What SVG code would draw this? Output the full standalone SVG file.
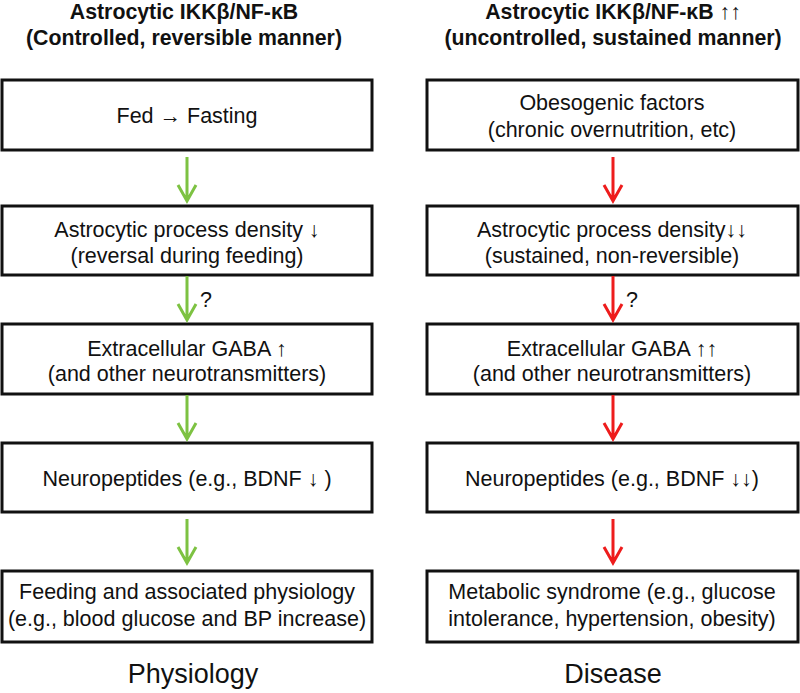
<svg xmlns="http://www.w3.org/2000/svg" width="800" height="693" viewBox="0 0 800 693">
<style>
.box{fill:#fff;stroke:#111;stroke-width:3}
.t{font-family:"Liberation Sans",Arial,sans-serif;font-size:21.5px;fill:#111;text-anchor:middle}
.h{font-family:"Liberation Sans",Arial,sans-serif;font-size:21.3px;font-weight:bold;fill:#111;text-anchor:middle}
.f{font-family:"Liberation Sans",Arial,sans-serif;font-size:27px;fill:#111;text-anchor:middle}
.g{stroke:#7dc242;stroke-width:3;fill:none}
.r{stroke:#ee1c1c;stroke-width:3;fill:none}
</style>
<rect width="800" height="693" fill="#fff"/>
<g id="titles">
<text class="h" x="184" y="19">Astrocytic IKKβ/NF-κB</text>
<text class="h" x="184" y="45">(Controlled, reversible manner)</text>
<text class="h" x="613" y="19">Astrocytic IKKβ/NF-κB ↑↑</text>
<text class="h" x="613" y="45">(uncontrolled, sustained manner)</text>
</g>
<g id="L1"><rect class="box" x="2" y="80" width="370" height="70"/><text class="t" x="187" y="123">Fed → Fasting</text></g>
<g id="L2"><rect class="box" x="2" y="206" width="370" height="69"/><text class="t" x="187" y="237">Astrocytic process density ↓</text><text class="t" x="187" y="263">(reversal during feeding)</text></g>
<g id="L3"><rect class="box" x="2" y="324" width="370" height="70"/><text class="t" x="187" y="356">Extracellular GABA ↑</text><text class="t" x="187" y="381">(and other neurotransmitters)</text></g>
<g id="L4"><rect class="box" x="2" y="443" width="370" height="69"/><text class="t" x="187" y="486">Neuropeptides (e.g., BDNF ↓ )</text></g>
<g id="L5"><rect class="box" x="2" y="571" width="370" height="71"/><text class="t" x="187" y="599">Feeding and associated physiology</text><text class="t" x="187" y="626">(e.g., blood glucose and BP increase)</text></g>
<g id="R1"><rect class="box" x="427" y="80" width="371" height="70"/><text class="t" x="612" y="110">Obesogenic factors</text><text class="t" x="612" y="137">(chronic overnutrition, etc)</text></g>
<g id="R2"><rect class="box" x="427" y="206" width="371" height="69"/><text class="t" x="612" y="237">Astrocytic process density↓↓</text><text class="t" x="612" y="263">(sustained, non-reversible)</text></g>
<g id="R3"><rect class="box" x="427" y="324" width="371" height="70"/><text class="t" x="612" y="356">Extracellular GABA ↑↑</text><text class="t" x="612" y="381">(and other neurotransmitters)</text></g>
<g id="R4"><rect class="box" x="427" y="443" width="371" height="69"/><text class="t" x="612" y="486">Neuropeptides (e.g., BDNF ↓↓)</text></g>
<g id="R5"><rect class="box" x="427" y="571" width="371" height="71"/><text class="t" x="612" y="599">Metabolic syndrome (e.g., glucose</text><text class="t" x="612" y="626">intolerance, hypertension, obesity)</text></g>
<g id="connectors">
<path class="g" d="M187 157V201M178 185L187 201L196 185"/>
<path class="g" d="M187 276V320M178 304L187 320L196 304"/>
<path class="g" d="M187 395V439M178 423L187 439L196 423"/>
<path class="g" d="M187 519V563M178 547L187 563L196 547"/>
<path class="r" d="M613 157V201M604 185L613 201L622 185"/>
<path class="r" d="M613 276V320M604 304L613 320L622 304"/>
<path class="r" d="M613 395V439M604 423L613 439L622 423"/>
<path class="r" d="M613 519V563M604 547L613 563L622 547"/>
<text class="t" x="206" y="307">?</text>
<text class="t" x="632" y="307">?</text>
</g>
<g id="footer">
<text class="f" x="193" y="683">Physiology</text>
<text class="f" x="613" y="683">Disease</text>
</g>
</svg>
